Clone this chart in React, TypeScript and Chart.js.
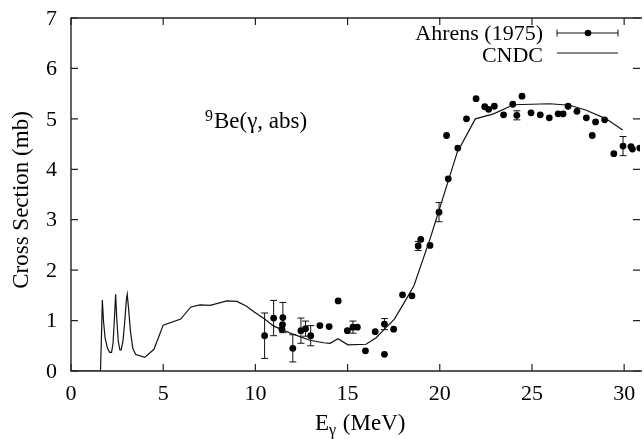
import { useEffect, useRef } from 'react';
import { Chart, registerables } from 'chart.js';

Chart.register(...registerables);

// CNDC evaluated curve (E in MeV, sigma in mb)
const cndcEnergy = [0, 1.6, 1.66, 1.7, 1.76, 1.85, 1.98, 2.1, 2.2, 2.28, 2.35, 2.42, 2.48, 2.56, 2.65, 2.72, 2.82, 2.92, 3.0, 3.05, 3.12, 3.22, 3.35, 3.5, 4.0, 4.5, 5.0, 5.95, 6.5, 7.0, 7.55, 8.45, 9.0, 9.5, 9.9, 10.5, 11.0, 11.5, 12.05, 12.95, 13.7, 14.05, 14.48, 15.02, 16.0, 16.55, 17.0, 17.54, 18.08, 18.6, 19.5, 20.95, 21.93, 22.92, 24.0, 25.97, 27.05, 27.95, 29.02, 29.92];
const cndcSigma = [0, 0, 0.8, 1.41, 1.0, 0.65, 0.45, 0.37, 0.37, 0.55, 1.0, 1.52, 1.05, 0.6, 0.42, 0.42, 0.6, 1.0, 1.4, 1.52, 1.25, 0.8, 0.45, 0.33, 0.27, 0.43, 0.91, 1.03, 1.27, 1.31, 1.3, 1.39, 1.38, 1.29, 1.18, 1.03, 0.89, 0.81, 0.73, 0.61, 0.56, 0.55, 0.64, 0.52, 0.53, 0.66, 0.83, 1.03, 1.36, 1.69, 2.65, 4.34, 5.0, 5.1, 5.28, 5.3, 5.27, 5.17, 5.0, 4.78];

// Ahrens (1975) measurements
const ahrensEnergy = [10.5, 10.99, 11.44, 11.49, 11.47, 12.03, 12.47, 12.72, 13.0, 13.5, 14.0, 14.49, 14.99, 15.29, 15.53, 15.97, 16.5, 17.0, 17.0, 17.5, 17.98, 18.49, 18.83, 18.97, 19.47, 19.96, 20.37, 20.46, 20.98, 21.45, 21.97, 22.44, 22.65, 22.96, 23.46, 23.96, 24.18, 24.46, 24.95, 25.45, 25.94, 26.42, 26.69, 26.96, 27.44, 27.95, 28.27, 28.45, 28.94, 29.44, 29.94, 30.37, 30.45, 30.85];
const ahrensSigma = [0.7, 1.05, 0.83, 1.06, 0.92, 0.45, 0.8, 0.84, 0.7, 0.9, 0.88, 1.39, 0.8, 0.87, 0.87, 0.4, 0.78, 0.33, 0.93, 0.83, 1.51, 1.49, 2.48, 2.61, 2.49, 3.15, 4.67, 3.81, 4.42, 5.0, 5.4, 5.24, 5.19, 5.25, 5.08, 5.29, 5.07, 5.45, 5.12, 5.08, 5.02, 5.1, 5.1, 5.25, 5.15, 5.02, 4.67, 4.94, 4.98, 4.31, 4.46, 4.45, 4.4, 4.42];
const ahrensError = [0.45, 0.35, 0, 0.3, 0, 0.27, 0.25, 0.15, 0.2, 0, 0, 0, 0, 0.12, 0, 0, 0, 0, 0.11, 0, 0, 0, 0.09, 0, 0, 0.19, 0, 0, 0, 0, 0, 0, 0, 0, 0, 0, 0.09, 0, 0, 0, 0, 0, 0, 0, 0, 0, 0, 0, 0, 0, 0.19, 0, 0, 0];

const xTickValues = [0, 5, 10, 15, 20, 25, 30];
const yTickValues = [0, 1, 2, 3, 4, 5, 6, 7];

const FONT = '"Liberation Serif", "Times New Roman", serif';
const INK = '#111';

const errorBarPlugin = {
  id: 'errorBars',
  afterDatasetsDraw(chart: any) {
    const { ctx, chartArea } = chart;
    const xs = chart.scales.x;
    const ys = chart.scales.y;
    ctx.save();
    ctx.beginPath();
    ctx.rect(chartArea.left, chartArea.top, chartArea.right - chartArea.left, chartArea.bottom - chartArea.top);
    ctx.clip();
    ctx.strokeStyle = INK;
    ctx.lineWidth = 1;
    for (let i = 0; i < ahrensEnergy.length; i++) {
      const e = ahrensError[i];
      if (!e) continue;
      const px = xs.getPixelForValue(ahrensEnergy[i]);
      const y1 = ys.getPixelForValue(ahrensSigma[i] + e);
      const y2 = ys.getPixelForValue(ahrensSigma[i] - e);
      ctx.beginPath();
      ctx.moveTo(px, y1);
      ctx.lineTo(px, y2);
      ctx.moveTo(px - 3.5, y1);
      ctx.lineTo(px + 3.5, y1);
      ctx.moveTo(px - 3.5, y2);
      ctx.lineTo(px + 3.5, y2);
      ctx.stroke();
    }
    ctx.restore();
  },
};

const framePlugin = {
  id: 'frame',
  afterDraw(chart: any) {
    const { ctx, chartArea } = chart;
    const { left, right, top, bottom } = chartArea;
    const xs = chart.scales.x;
    const ys = chart.scales.y;
    ctx.save();
    ctx.strokeStyle = '#222';
    ctx.lineWidth = 1.4;
    // border (left, bottom, top)
    ctx.beginPath();
    ctx.moveTo(right + 2, top);
    ctx.lineTo(left, top);
    ctx.lineTo(left, bottom);
    ctx.lineTo(right + 2, bottom);
    ctx.stroke();
    // inward ticks
    const tl = 7;
    ctx.lineWidth = 1.2;
    ctx.beginPath();
    for (const v of xTickValues) {
      const px = xs.getPixelForValue(v);
      ctx.moveTo(px, bottom);
      ctx.lineTo(px, bottom - tl);
      ctx.moveTo(px, top);
      ctx.lineTo(px, top + tl);
    }
    for (const v of yTickValues) {
      const py = ys.getPixelForValue(v);
      ctx.moveTo(left, py);
      ctx.lineTo(left + tl, py);
      ctx.moveTo(right, py);
      ctx.lineTo(right - tl, py);
    }
    ctx.stroke();

    ctx.fillStyle = '#000';
    // tick labels
    ctx.font = `22px ${FONT}`;
    ctx.textBaseline = 'middle';
    ctx.textAlign = 'center';
    for (const v of xTickValues) {
      ctx.fillText(String(v), xs.getPixelForValue(v), 394);
    }
    ctx.textAlign = 'right';
    for (const v of yTickValues) {
      ctx.fillText(String(v), 57, ys.getPixelForValue(v) + 1);
    }

    // y axis title
    ctx.save();
    ctx.translate(22, 200);
    ctx.rotate(-Math.PI / 2);
    ctx.font = `23px ${FONT}`;
    ctx.textAlign = 'center';
    ctx.textBaseline = 'middle';
    ctx.fillText('Cross Section (mb)', 0, 0);
    ctx.restore();

    // x axis title: E_gamma (MeV)
    ctx.textBaseline = 'alphabetic';
    ctx.textAlign = 'left';
    let x = 315;
    const base = 430;
    ctx.font = `23px ${FONT}`;
    ctx.fillText('E', x, base);
    x += ctx.measureText('E').width;
    ctx.font = `16px ${FONT}`;
    ctx.fillText('γ', x, base + 5);
    x += ctx.measureText('γ').width + 1;
    ctx.font = `23px ${FONT}`;
    ctx.fillText(' (MeV)', x, base);

    // annotation 9Be(γ, abs)
    ctx.font = `16px ${FONT}`;
    ctx.fillText('9', 205, 121);
    ctx.font = `23px ${FONT}`;
    ctx.fillText('Be(γ, abs)', 214, 128);

    // legend
    ctx.textAlign = 'right';
    ctx.font = `22px ${FONT}`;
    ctx.fillText('Ahrens (1975)', 543, 40);
    ctx.fillText('CNDC', 543, 61.5);
    ctx.strokeStyle = INK;
    ctx.lineWidth = 1;
    ctx.beginPath();
    ctx.moveTo(557, 33);
    ctx.lineTo(618, 33);
    ctx.moveTo(557, 29.5);
    ctx.lineTo(557, 36.5);
    ctx.moveTo(618, 29.5);
    ctx.lineTo(618, 36.5);
    ctx.stroke();
    ctx.beginPath();
    ctx.arc(588, 33, 3.3, 0, Math.PI * 2);
    ctx.fill();
    ctx.lineWidth = 1.2;
    ctx.beginPath();
    ctx.moveTo(557, 53);
    ctx.lineTo(618, 53);
    ctx.stroke();
    ctx.restore();
  },
};

export default function App() {
  const canvasRef = useRef<HTMLCanvasElement | null>(null);

  useEffect(() => {
    if (!canvasRef.current) return;
    const cndcData = cndcEnergy.map((e, i) => ({ x: e, y: cndcSigma[i] }));
    const ahrensData = ahrensEnergy.map((e, i) => ({ x: e, y: ahrensSigma[i] }));
    const chart = new Chart(canvasRef.current, {
      type: 'scatter',
      data: {
        datasets: [
          {
            label: 'CNDC',
            data: cndcData,
            showLine: true,
            borderColor: INK,
            borderWidth: 1.2,
            pointRadius: 0,
            tension: 0,
            fill: false,
          } as any,
          {
            label: 'Ahrens (1975)',
            data: ahrensData,
            showLine: false,
            pointRadius: 3.4,
            pointBackgroundColor: '#000',
            pointBorderColor: '#000',
            pointBorderWidth: 0,
          },
        ],
      },
      options: {
        responsive: false,
        animation: false,
        layout: { padding: { top: 18, right: 0, left: 0, bottom: 0 } },
        plugins: {
          legend: { display: false },
          tooltip: { enabled: false },
        },
        scales: {
          x: {
            type: 'linear',
            min: 0,
            max: 30.86,
            grid: { display: false, drawTicks: false },
            border: { display: false },
            ticks: { display: false },
            afterBuildTicks: (scale: any) => {
              scale.ticks = xTickValues.map((v) => ({ value: v }));
            },
            afterFit: (scale: any) => {
              scale.height = 68;
            },
          },
          y: {
            type: 'linear',
            min: 0,
            max: 7,
            grid: { display: false, drawTicks: false },
            border: { display: false },
            ticks: { display: false },
            afterBuildTicks: (scale: any) => {
              scale.ticks = yTickValues.map((v) => ({ value: v }));
            },
            afterFit: (scale: any) => {
              scale.width = 71;
            },
          },
        },
      },
      plugins: [errorBarPlugin, framePlugin],
    });
    return () => chart.destroy();
  }, []);

  return (
    <div style={{ position: 'absolute', left: 0, top: 0, width: 644, height: 439, background: '#fff' }}>
      <canvas ref={canvasRef} width={644} height={439} style={{ display: 'block' }} />
    </div>
  );
}
